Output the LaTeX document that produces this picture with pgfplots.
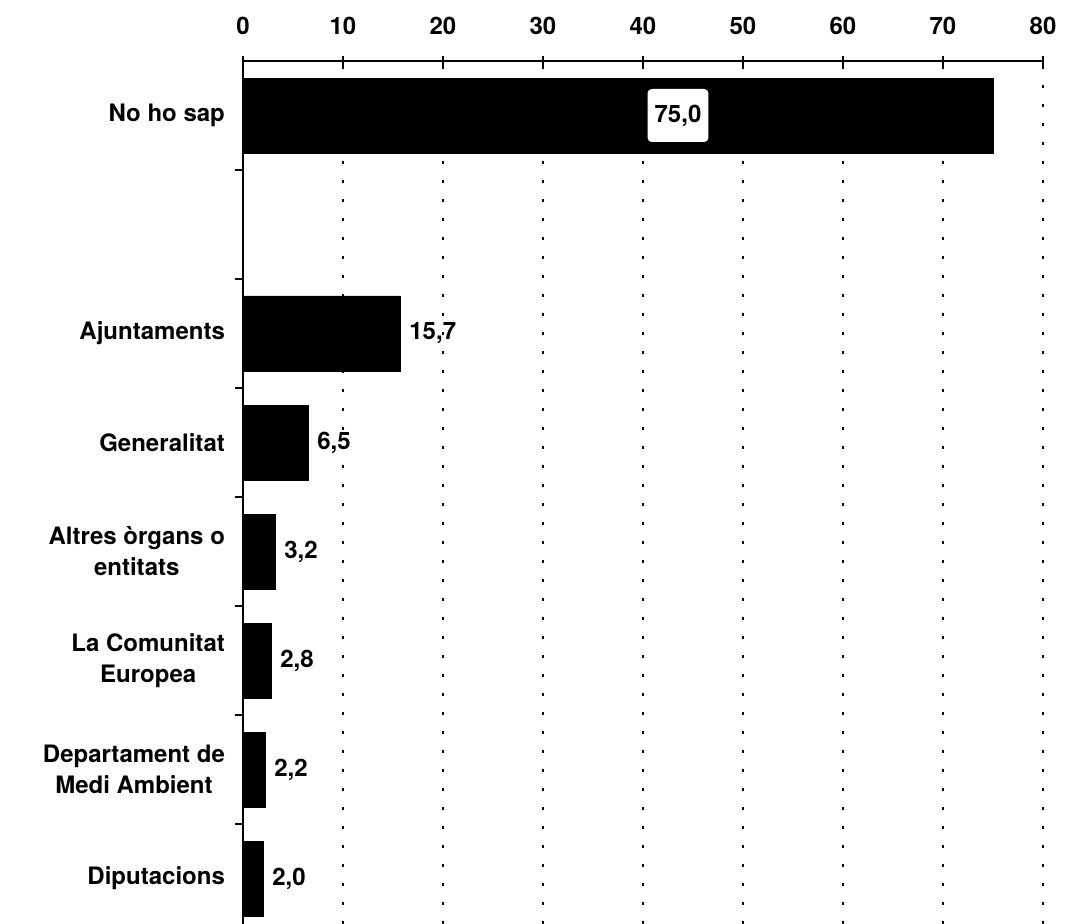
\documentclass[border=0pt]{standalone}
\usepackage{fontspec}
\setmainfont{TeX Gyre Heros}
\usepackage{pgfplots}
\pgfplotsset{compat=1.18}
\newcommand{\lblfont}{\fontsize{12}{15.5}\selectfont\bfseries}
\begin{document}
\begin{tikzpicture}
\begin{axis}[
  name=ax,
  scale only axis, width=400pt, height=431.5pt,
  xbar, bar width=37.5pt, bar shift=0pt,
  xmin=0, xmax=80, ymin=-0.417, ymax=7.5,
  axis x line*=top, axis y line*=left,
  axis line style={-, line width=1pt},
  xtick={0,10,...,80},
  ytick={0,1,2,3,4,5,7},
  yticklabels={Diputacions,{Departament de\\Medi Ambient},{La Comunitat\\Europea},{Altres òrgans o\\entitats},Generalitat,Ajuntaments,No ho sap},
  yticklabel style={align=center, font=\lblfont},
  xticklabel style={font=\lblfont},
  /pgf/number format/assume math mode=true,
  tick align=center,
  major tick length=5pt,
  minor ytick={0.5,1.5,...,6.5},
  minor tick length=4pt,
  minor y tick style={xshift=-2pt, line width=1pt, black},
  major y tick style={draw=none},
  major x tick style={line width=1pt, black},
  xticklabel shift=7pt,
  yticklabel shift=3pt,
  xmajorgrids,
  grid style={black, line width=1pt, dash pattern=on 1.5pt off 8pt},
]
\addplot[fill=black, draw=black, point meta=x,
  nodes near coords={\pgfmathprintnumber[use comma,fixed,fixed zerofill,precision=1,assume math mode=true]{\pgfplotspointmeta}},
  nodes near coords align={horizontal},
  every node near coord/.append style={font=\lblfont, inner xsep=4.5pt}]
  table {
x y
15.7 5
6.5 4
3.2 3
2.8 2
2.2 1
2.0 0
};
\addplot[fill=black, draw=black] table {
x y
75.0 7
};
\node[fill=white, rounded corners=2pt, inner xsep=3.5pt, minimum height=26.5pt, font=\lblfont] at (axis cs:43.5,7) {75,0};
\end{axis}
\pgfresetboundingbox
\path[use as bounding box] ([xshift=-121.5pt]ax.south west) rectangle ([xshift=15pt,yshift=30.5pt]ax.north east);
\end{tikzpicture}
\end{document}
